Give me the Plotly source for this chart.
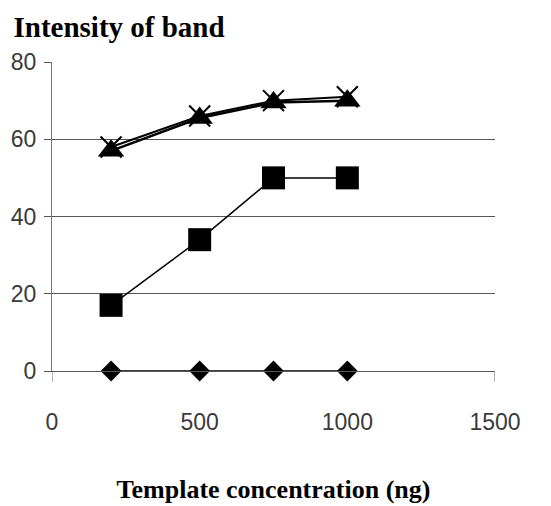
import plotly.graph_objects as go

# Template concentration (ng)
concentration = [200, 500, 750, 1000]

# Band intensity per series
series_diamond = [0, 0, 0, 0]
series_square = [17, 34, 50, 50]
series_triangle = [57, 65.5, 69.5, 70]
series_cross = [58, 66, 70, 71]

x_ticks = [0, 500, 1000, 1500]
y_ticks = [0, 20, 40, 60, 80]

fig = go.Figure()

fig.add_trace(go.Scatter(
    x=concentration, y=series_diamond, mode='lines+markers', cliponaxis=False,
    line=dict(color='black', width=1.5),
    marker=dict(symbol='diamond', size=16, color='black'),
))
fig.add_trace(go.Scatter(
    x=concentration, y=series_square, mode='lines+markers', cliponaxis=False,
    line=dict(color='black', width=1.5),
    marker=dict(symbol='square', size=23, color='black'),
))
fig.add_trace(go.Scatter(
    x=concentration, y=series_cross, mode='lines+markers', cliponaxis=False,
    line=dict(color='black', width=2),
    marker=dict(symbol='x-thin-open', size=21, line=dict(color='black', width=2)),
))
fig.add_trace(go.Scatter(
    x=concentration, y=series_triangle, mode='lines+markers', cliponaxis=False,
    line=dict(color='black', width=2.5),
    marker=dict(symbol='triangle-up', size=23, color='black'),
))

# small end ticks of the x axis
for xv in [0, 1500]:
    fig.add_shape(type='line', xref='x', yref='paper', x0=xv, x1=xv, y0=0, y1=-0.035,
                  line=dict(color='#666', width=1))

# the page body adds an 8px offset, so margins are shifted to compensate
fig.update_layout(
    width=551, height=506,
    margin=dict(l=44, r=64, t=54, b=143),
    plot_bgcolor='white', paper_bgcolor='white',
    showlegend=False,
    font=dict(family='Liberation Sans', size=23, color='#3a3a3a'),
    title=dict(
        text='<b>Intensity of band</b>',
        x=0.01, xanchor='left', y=0.962, yanchor='middle',
        font=dict(family='Liberation Serif', size=29, color='black'),
    ),
)

fig.update_xaxes(
    range=[0, 1500], tickvals=x_ticks, ticks='', ticklabelstandoff=30,
    showgrid=False, zeroline=False, showline=True, linecolor='#555', linewidth=1,
    automargin=False,
    title=dict(text='<b>Template concentration (ng)</b>', standoff=46,
               font=dict(family='Liberation Serif', size=26, color='black')),
)
fig.update_yaxes(
    range=[0, 80], tickvals=y_ticks, ticks='outside', ticklen=7, tickcolor='#555',
    ticklabelstandoff=3, automargin=False,
    showgrid=True, gridcolor='#555', gridwidth=1,
    zeroline=False, showline=True, linecolor='#777', linewidth=1,
)

fig.write_html("out.html")
